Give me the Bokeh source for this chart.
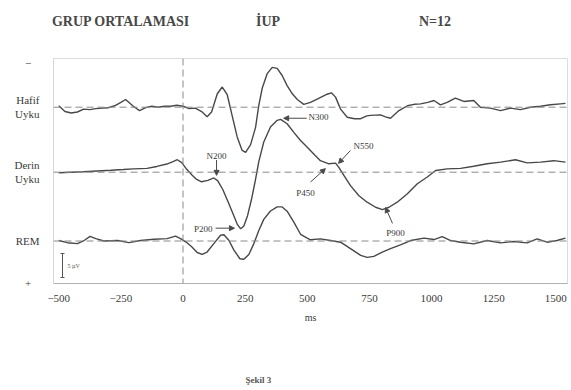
from bokeh.plotting import figure
from bokeh.models import (ColumnDataSource, Range1d, Span, Label, Arrow, NormalHead,
                          FixedTicker, LinearAxis)
from bokeh.embed import file_html
from bokeh.resources import INLINE

# ---------------- data ----------------
# time in ms, amplitude in µV (negative plotted upward)
HAFIF_T = [-500, -475, -450, -425, -400, -375, -350, -325, -300, -275, -250, -231, -200, -175,
           -150, -125, -100, -75, -50, -25, 0, 25, 50, 75, 97, 115, 138, 158, 178, 198, 218,
           238, 252, 272, 292, 305, 319, 339, 359, 379, 399, 419, 440, 460, 486, 513, 540,
           580, 597, 614, 634, 661, 690, 715, 740, 755, 795, 815, 835, 869, 903, 930, 956,
           985, 1010, 1036, 1063, 1096, 1130, 1170, 1197, 1237, 1278, 1318, 1358, 1398,
           1439, 1479, 1519, 1539]
HAFIF_V = [-0.3, 0.9, 1.2, 1.0, 0.4, 0.5, 0.3, 0.2, 0.1, -0.3, -1.0, -1.6, -0.2, 0.7,
           0.1, -0.2, 0.0, -0.2, -0.2, -0.4, -0.2, 0.3, 0.2, 0.9, 2.0, 1.0, -2.8, -4.2, -2.6, 1.8, 6.2,
           9.0, 9.4, 7.8, 4.2, -0.4, -4.0, -7.0, -8.3, -8.1, -6.6, -4.5, -2.8, -1.6, -0.6, -1.0, -1.7,
           -2.7, -3.0, -2.1, 0.4, 2.1, 2.4, 2.4, 1.8, 1.7, 1.6, 2.0, 2.3, 0.7, -0.3, -0.6, -0.7,
           -1.0, -1.4, -0.5, -1.0, -1.9, -1.2, -1.4, 0.0, 0.2, 0.7, 0.2, 0.5, 0.0,
           -0.2, -0.5, -0.7, -0.8]

DERIN_T = [-500, -450, -400, -345, -290, -240, -200, -145, -105, -65, -40, -23, -5, 15, 36, 55,
           75, 100, 124, 140, 160, 180, 200, 218, 232, 245, 260, 275, 290, 305, 325, 352, 379,
           393, 419, 446, 473, 500, 530, 553, 587, 614, 627, 648, 674, 708, 741, 775, 802, 829,
           862, 903, 943, 983, 1017, 1063, 1117, 1170, 1224, 1278, 1338, 1385, 1439, 1492, 1539]
DERIN_V = [0.1, 0.0, -0.1, -0.25, -0.4, -0.55, -0.7, -0.8, -1.2, -1.7, -2.2, -2.6, -2.0, -0.6, 0.6, 1.5,
           2.0, 1.7, 1.2, 1.8, 3.6, 6.0, 8.5, 10.8, 11.8, 11.2, 9.0, 5.8, 2.0, -2.2, -6.3, -9.4, -10.8,
           -11.0, -10.1, -8.3, -6.6, -5.2, -3.6, -2.4, -1.75, -1.9, -1.0, 0.7, 2.8, 4.9, 6.25, 7.3, 7.8, 7.3,
           6.25, 4.5, 2.4, 1.0, -0.35, -0.7, -0.8, -1.25, -1.75, -2.1, -2.6, -1.95, -2.1, -2.4, -2.1]

REM_T = [-500, -465, -425, -398, -374, -351, -318, -264, -217, -171, -117, -64, -30, -10, 16, 36,
         57, 77, 97, 124, 151, 165, 185, 205, 229, 245, 265, 285, 305, 325, 352, 379, 399, 419,
         446, 473, 500, 513, 553, 594, 634, 674, 715, 741, 768, 802, 835, 875, 916, 970, 1010,
         1043, 1077, 1117, 1170, 1224, 1278, 1331, 1385, 1425, 1465, 1505, 1539]
REM_V = [-0.1, 0.35, 0.55, -0.1, -0.95, -0.5, 0.0, -0.1, 0.35, -0.1, -0.35, -0.5, -1.0, -0.5, 0.35, 1.25,
         2.4, 2.8, 2.3, 0.55, -1.2, -1.3, -0.1, 1.9, 3.7, 3.8, 2.8, 0.55, -2.2, -4.5, -6.25, -7.1, -7.1, -6.2,
         -3.95, -1.4, -0.6, -0.25, -0.45, -0.1, 0.25, 1.6, 3.0, 3.4, 3.2, 2.3, 1.6, 0.8, -0.1, -0.6, -0.3,
         -0.9, -0.1, 0.25, 0.6, -0.1, 0.4, 0.1, 0.4, -0.45, 0.25, -0.1, -0.6]

CONDITIONS = ["Hafif\nUyku", "Derin\nUyku", "REM"]
POLARITY = ["−", "+"]
X_TICKS = [-500, -250, 0, 250, 500, 750, 1000, 1250, 1500]
HEADER = ["GRUP ORTALAMASI", "İUP", "N=12"]
CAPTION = "Şekil 3"

# components: label, text position, arrow start, arrow end (ms, µV on stacked scale)
COMP_LABELS = ["N300", "N200", "N550", "P450", "P900", "P200"]
COMP_TEXT_T = [505, 135, 686, 493, 855, 119]
COMP_TEXT_Y = [2.1, 10.1, 8.0, 17.8, 26.3, 25.3]
COMP_ALIGN = ["left", "center", "left", "center", "center", "right"]
COMP_ARROW_T0 = [498, 135, 674, 513, 843, 131]
COMP_ARROW_Y0 = [2.3, 11.0, 9.0, 15.6, 24.2, 25.2]
COMP_ARROW_T1 = [405, 135, 626, 573, 815, 207]
COMP_ARROW_Y1 = [2.3, 14.2, 11.7, 12.8, 20.9, 25.2]

SCALE_BAR_UV = 5

# ---------------- layout (pixels) ----------------
W, H = 571, 390
B_LEFT, B_RIGHT, B_TOP, B_BOTTOM = 53, 4, 58, 107
PX_PER_MS = 0.2485
PX_PER_UV = 4.8
ZERO_PX = 182.5          # x of t=0
BASE0_PX = 106.7         # y of first baseline
OFFSETS = [0.0, 65 / PX_PER_UV, 133.8 / PX_PER_UV]

x0 = (B_LEFT - ZERO_PX) / PX_PER_MS
x1 = (W - B_RIGHT - ZERO_PX) / PX_PER_MS
y_top = (B_TOP - BASE0_PX) / PX_PER_UV
y_bot = (H - B_BOTTOM - BASE0_PX) / PX_PER_UV


def dx(px):
    return (px - ZERO_PX) / PX_PER_MS


def dy(py):
    return (py - BASE0_PX) / PX_PER_UV


FONT = "Liberation Serif"
INK = "#3a3a3a"
NB = "\u00a0"

p = figure(width=W, height=H, output_backend="svg", toolbar_location=None,
           x_range=Range1d(x0, x1), y_range=Range1d(y_bot, y_top),
           min_border_left=B_LEFT, min_border_right=B_RIGHT,
           min_border_top=B_TOP, min_border_bottom=B_BOTTOM)
p.grid.visible = False
p.outline_line_color = "#dcdcdc"
p.background_fill_color = "white"
p.border_fill_color = "white"


def plain_axis(a, ticks, overrides, size, style="normal", standoff=8, color=INK):
    a.ticker = FixedTicker(ticks=ticks)
    a.major_label_overrides = overrides
    a.major_tick_line_color = None
    a.minor_tick_line_color = None
    a.major_label_text_font = FONT
    a.major_label_text_font_size = size
    a.major_label_text_font_style = style
    a.major_label_text_color = color
    a.major_label_standoff = standoff


# bottom time axis
ax = p.xaxis[0]
plain_axis(ax, X_TICKS, {}, "11px", standoff=5)
ax.axis_line_color = "#b0b0b0"
ax.axis_label = "ms"
ax.axis_label_text_font = FONT
ax.axis_label_text_font_style = "normal"
ax.axis_label_text_font_size = "10px"
ax.axis_label_text_color = INK
ax.axis_label_standoff = 7

# left axis carries the condition names and polarity marks
ay = p.yaxis[0]
y_ticks = [dy(62)] + OFFSETS + [dy(282)]
y_labels = [POLARITY[0] + NB * 3] + CONDITIONS + [POLARITY[1] + NB * 3]
plain_axis(ay, y_ticks, {t: s for t, s in zip(y_ticks, y_labels)}, "11px", standoff=8)
ay.axis_line_color = "#d8d8d8"
ay.major_label_orientation = "horizontal"

# header row as an axis above the frame
header_px = [120.5, 267.5, 434.5]
head = LinearAxis(axis_line_color=None)
hx = [dx(v) for v in header_px]
plain_axis(head, hx, {t: s for t, s in zip(hx, HEADER)}, "14px", style="bold",
           standoff=24, color="#484848")
p.add_layout(head, "above")

# caption as a second axis below
cap = LinearAxis(axis_line_color=None)
cx = [dx(258)]
plain_axis(cap, cx, {cx[0]: CAPTION}, "9px", style="bold", standoff=43, color="#555555")
p.add_layout(cap, "below")

# dashed baselines and stimulus line
for off in OFFSETS:
    p.add_layout(Span(location=off, dimension="width", line_color="#8a8a8a",
                      line_dash="7 4", line_width=1))
p.add_layout(Span(location=0, dimension="height", line_color="#8a8a8a",
                  line_dash="7 4", line_width=1))

# traces
for ts, vs, off in [(HAFIF_T, HAFIF_V, OFFSETS[0]), (DERIN_T, DERIN_V, OFFSETS[1]),
                    (REM_T, REM_V, OFFSETS[2])]:
    src = ColumnDataSource(dict(t=ts, y=[v + off for v in vs]))
    p.line("t", "y", source=src, line_color="#484848", line_width=1.4)

# component labels and arrows
for lab, tx, ty, al, ax0, ay0, ax1, ay1 in zip(COMP_LABELS, COMP_TEXT_T, COMP_TEXT_Y, COMP_ALIGN,
                                               COMP_ARROW_T0, COMP_ARROW_Y0,
                                               COMP_ARROW_T1, COMP_ARROW_Y1):
    p.add_layout(Label(x=tx, y=ty, text=lab, text_font=FONT,
                       text_font_size="9px", text_color=INK, text_align=al,
                       text_baseline="middle"))
    p.add_layout(Arrow(x_start=ax0, y_start=ay0, x_end=ax1, y_end=ay1,
                       line_color="#4a4a4a", line_width=1,
                       end=NormalHead(size=5, fill_color="#4a4a4a", line_color="#4a4a4a")))

# scale bar
sb_t = dx(62)
sb_y0 = dy(253)
p.segment(x0=[sb_t], y0=[sb_y0], x1=[sb_t], y1=[sb_y0 + SCALE_BAR_UV],
          line_color="#555555", line_width=1)
p.segment(x0=[sb_t - 8, sb_t - 8], y0=[sb_y0, sb_y0 + SCALE_BAR_UV],
          x1=[sb_t + 8, sb_t + 8], y1=[sb_y0, sb_y0 + SCALE_BAR_UV],
          line_color="#555555", line_width=1)
p.add_layout(Label(x=dx(67), y=sb_y0 + SCALE_BAR_UV / 2, text="5 µV", text_font=FONT,
                   text_font_size="6px", text_color="#555555", text_baseline="middle"))

open("out.html", "w").write(file_html(p, INLINE))
